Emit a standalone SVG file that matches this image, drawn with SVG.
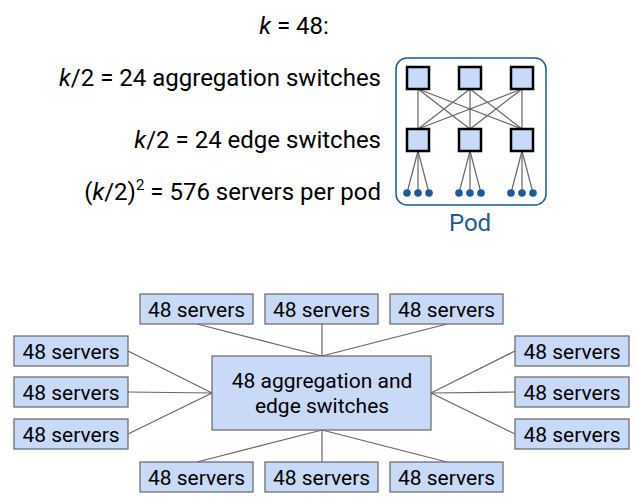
<svg xmlns="http://www.w3.org/2000/svg" width="637" height="502" viewBox="0 0 637 502">
<style>
text{font-family:Roboto,"Liberation Sans",sans-serif;fill:#000}
.t{font-size:24px}
.s{font-size:21px;text-anchor:middle}
.box{fill:#c9daf8;stroke:#666;stroke-width:1.2}
.ln{stroke:#666;stroke-width:1.2;fill:none}
.sq{fill:#c9daf8;stroke:#000;stroke-width:2.5}
.pl{stroke:#666;stroke-width:1.2}
.dot{fill:#1a5a9a}
</style>
<rect width="637" height="502" fill="#fff"/>
<g id="labels">
<text class="t" x="294" y="34" text-anchor="middle"><tspan font-style="italic">k</tspan> = 48:</text>
<text class="t" x="381" y="86" text-anchor="end"><tspan font-style="italic">k</tspan>/2 = 24 aggregation switches</text>
<text class="t" x="381" y="148" text-anchor="end"><tspan font-style="italic">k</tspan>/2 = 24 edge switches</text>
<text class="t" x="381" y="200" text-anchor="end">(<tspan font-style="italic">k</tspan>/2)<tspan font-size="15" dy="-10">2</tspan><tspan dy="10"> = 576 servers per pod</tspan></text>
</g>
<g id="pod">
<rect x="396" y="58" width="150" height="147" rx="11" fill="none" stroke="#1a5a9a" stroke-width="1.5"/>
<g class="pl">
<line x1="418" y1="89" x2="418" y2="129"/><line x1="418" y1="89" x2="470" y2="129"/><line x1="418" y1="89" x2="522" y2="129"/>
<line x1="470" y1="89" x2="418" y2="129"/><line x1="470" y1="89" x2="470" y2="129"/><line x1="470" y1="89" x2="522" y2="129"/>
<line x1="522" y1="89" x2="418" y2="129"/><line x1="522" y1="89" x2="470" y2="129"/><line x1="522" y1="89" x2="522" y2="129"/>
<line x1="418" y1="151" x2="407" y2="193"/><line x1="418" y1="151" x2="418" y2="193"/><line x1="418" y1="151" x2="429" y2="193"/>
<line x1="470" y1="151" x2="459" y2="193"/><line x1="470" y1="151" x2="470" y2="193"/><line x1="470" y1="151" x2="481" y2="193"/>
<line x1="522" y1="151" x2="511" y2="193"/><line x1="522" y1="151" x2="522" y2="193"/><line x1="522" y1="151" x2="533" y2="193"/>
</g>
<rect class="sq" x="407" y="67" width="22" height="22"/><rect class="sq" x="459" y="67" width="22" height="22"/><rect class="sq" x="511" y="67" width="22" height="22"/>
<rect class="sq" x="407" y="129" width="22" height="22"/><rect class="sq" x="459" y="129" width="22" height="22"/><rect class="sq" x="511" y="129" width="22" height="22"/>
<circle class="dot" cx="407" cy="193" r="3.8"/><circle class="dot" cx="418" cy="193" r="3.8"/><circle class="dot" cx="429" cy="193" r="3.8"/>
<circle class="dot" cx="459" cy="193" r="3.8"/><circle class="dot" cx="470" cy="193" r="3.8"/><circle class="dot" cx="481" cy="193" r="3.8"/>
<circle class="dot" cx="511" cy="193" r="3.8"/><circle class="dot" cx="522" cy="193" r="3.8"/><circle class="dot" cx="533" cy="193" r="3.8"/>
<text x="470" y="231" font-size="24" text-anchor="middle" style="fill:#1a5a9a">Pod</text>
</g>
<g id="connectors" class="ln">
<line x1="197" y1="324" x2="322" y2="356"/><line x1="322" y1="324" x2="322" y2="356"/><line x1="447" y1="324" x2="322" y2="356"/>
<line x1="197" y1="462" x2="322" y2="430"/><line x1="322" y1="462" x2="322" y2="430"/><line x1="447" y1="462" x2="322" y2="430"/>
<line x1="128" y1="351" x2="212" y2="393"/><line x1="128" y1="392" x2="212" y2="393"/><line x1="128" y1="434" x2="212" y2="393"/>
<line x1="515" y1="351" x2="431" y2="393"/><line x1="515" y1="392" x2="431" y2="393"/><line x1="515" y1="434" x2="431" y2="393"/>
</g>
<g id="center"><rect class="box" x="212" y="356" width="219" height="74"/>
<text class="s" x="322" y="388">48 aggregation and</text><text class="s" x="322" y="413">edge switches</text></g>
<g id="s1"><rect class="box" x="140" y="294" width="113" height="30"/><text class="s" x="196.5" y="317">48 servers</text></g>
<g id="s2"><rect class="box" x="265" y="294" width="113" height="30"/><text class="s" x="321.5" y="317">48 servers</text></g>
<g id="s3"><rect class="box" x="390" y="294" width="113" height="30"/><text class="s" x="446.5" y="317">48 servers</text></g>
<g id="s4"><rect class="box" x="14" y="336" width="114" height="30"/><text class="s" x="71" y="359">48 servers</text></g>
<g id="s5"><rect class="box" x="14" y="377" width="114" height="30"/><text class="s" x="71" y="400">48 servers</text></g>
<g id="s6"><rect class="box" x="14" y="419" width="114" height="30"/><text class="s" x="71" y="442">48 servers</text></g>
<g id="s7"><rect class="box" x="515" y="336" width="114" height="30"/><text class="s" x="572" y="359">48 servers</text></g>
<g id="s8"><rect class="box" x="515" y="377" width="114" height="30"/><text class="s" x="572" y="400">48 servers</text></g>
<g id="s9"><rect class="box" x="515" y="419" width="114" height="30"/><text class="s" x="572" y="442">48 servers</text></g>
<g id="s10"><rect class="box" x="140" y="462" width="113" height="30"/><text class="s" x="196.5" y="485">48 servers</text></g>
<g id="s11"><rect class="box" x="265" y="462" width="113" height="30"/><text class="s" x="321.5" y="485">48 servers</text></g>
<g id="s12"><rect class="box" x="390" y="462" width="113" height="30"/><text class="s" x="446.5" y="485">48 servers</text></g>
</svg>
